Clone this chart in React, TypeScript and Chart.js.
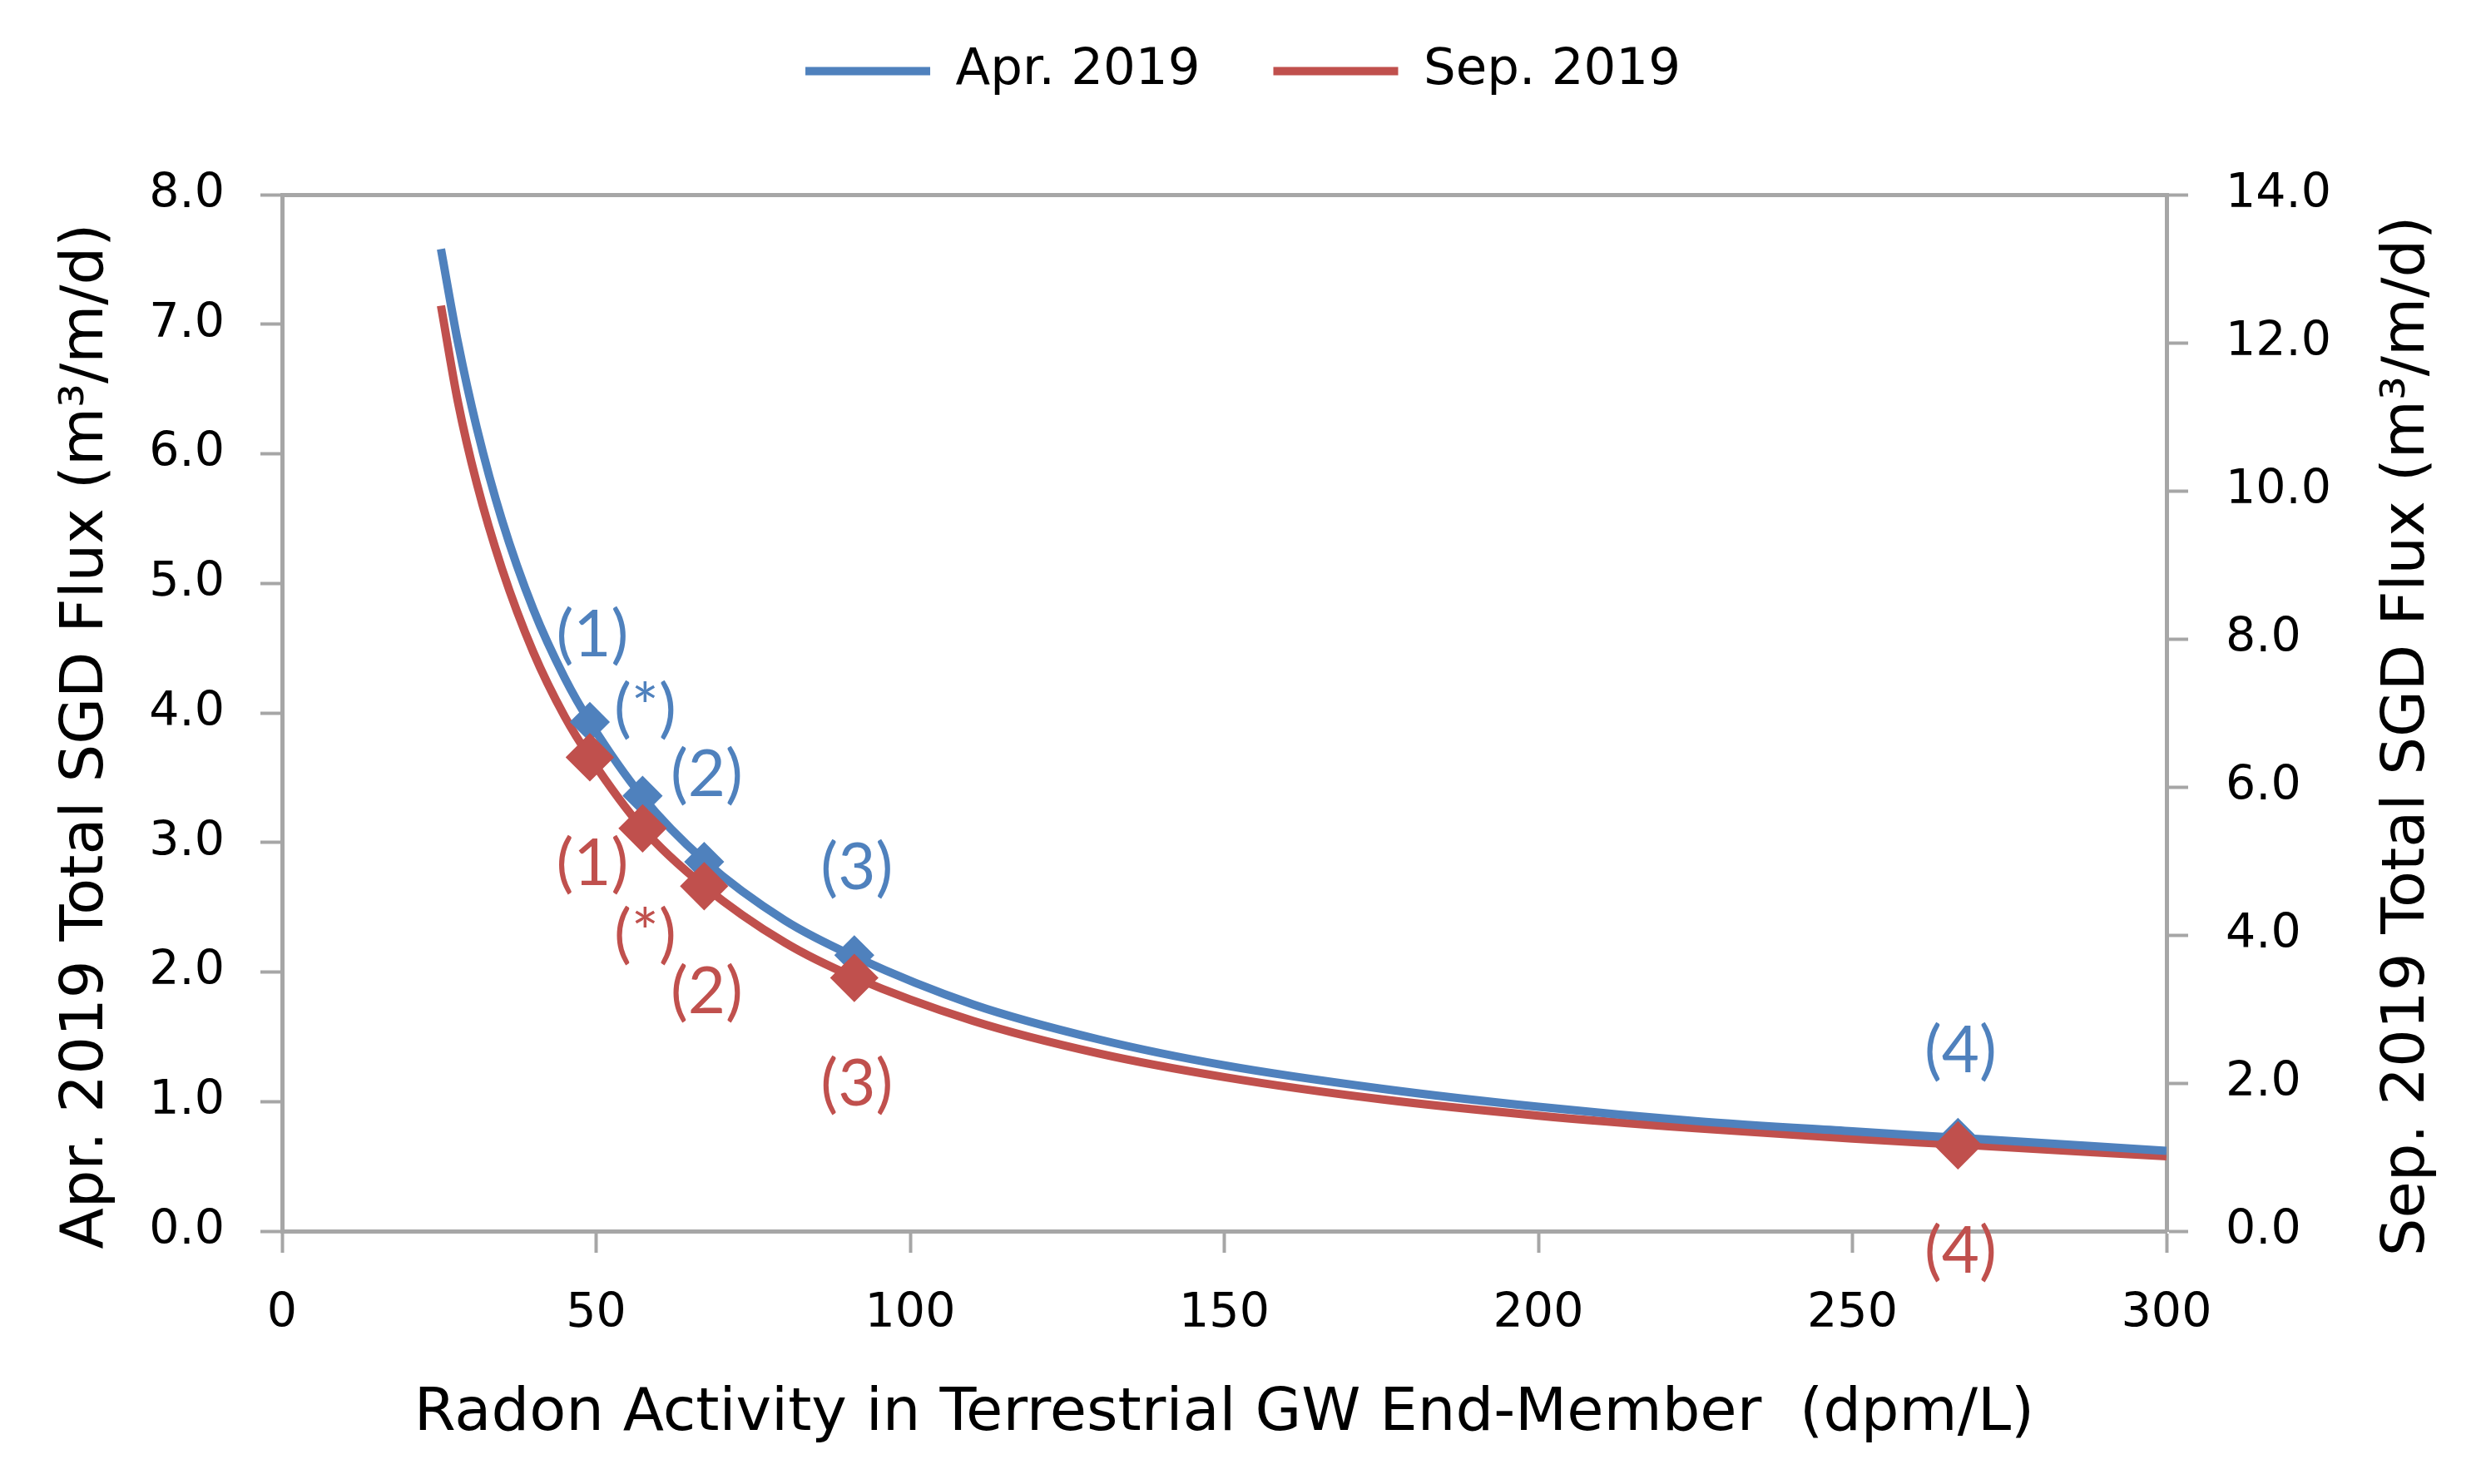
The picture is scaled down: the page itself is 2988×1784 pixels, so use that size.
import React, { useEffect, useRef } from 'react';
import { Chart, registerables } from 'chart.js';

Chart.register(...registerables);

// ---- data ----
const seriesNames = ['Apr. 2019', 'Sep. 2019'];
const curveX = [25.3, 28, 31, 35, 40, 45, 49, 57.4, 67.2, 80, 91.1, 110, 130, 150, 175, 200, 225, 250, 266.8, 300];
const aprCurve = [7.58, 6.86, 6.2, 5.49, 4.8, 4.27, 3.93, 3.35, 2.86, 2.4, 2.12, 1.75, 1.48, 1.28, 1.1, 0.96, 0.85, 0.77, 0.72, 0.62];
const sepCurve = [12.5, 11.2, 10.1, 8.95, 7.82, 6.95, 6.4, 5.44, 4.66, 3.9, 3.43, 2.84, 2.4, 2.08, 1.78, 1.56, 1.39, 1.25, 1.17, 1.01];
const markerX = [49, 57.4, 67.2, 91.1, 266.8];
const aprMarkers = [3.93, 3.36, 2.85, 2.13, 0.72];
const sepMarkers = [6.4, 5.44, 4.66, 3.42, 1.16];
const markerLabels = ['(1)', '(*)', '(2)', '(3)', '(4)'];
const xRange = [0, 300, 50];
const yLeftRange = [0, 8, 1];
const yRightRange = [0, 14, 2];
const xTitle = 'Radon Activity in Terrestrial GW End-Member  (dpm/L)';
const yLeftTitle = 'Apr. 2019 Total SGD Flux (m\u00B3/m/d)';
const yRightTitle = 'Sep. 2019 Total SGD Flux (m\u00B3/m/d)';

// ---- styles ----
const BLUE = '#4F81BD';
const RED = '#C0504D';
const GRAY = '#A6A6A6';
const FONT = "'DejaVu Sans', Verdana, sans-serif";
const LABEL_FONT = "Lato, 'Open Sans', sans-serif";

const toXY = (xs: number[], ys: number[]) => xs.map((x, i) => ({ x, y: ys[i] }));

const pointLabelsPlugin = {
  id: 'pointLabels',
  afterDatasetsDraw(chart: any) {
    const ctx = chart.ctx;
    const cfgs = [
      { ds: 2, color: BLUE, dy: -104 },
      { ds: 3, color: RED, dy: 128 },
    ];
    ctx.save();
    ctx.font = `78px ${LABEL_FONT}`;
    ctx.textAlign = 'center';
    ctx.textBaseline = 'middle';
    cfgs.forEach((c) => {
      const meta = chart.getDatasetMeta(c.ds);
      ctx.fillStyle = c.color;
      meta.data.forEach((pt: any, i: number) => {
        ctx.fillText(markerLabels[i], pt.x + 3, pt.y + c.dy);
      });
    });
    ctx.restore();
  },
};

// vertical axis titles, both reading bottom-to-top as in the reference
const axisTitlesPlugin = {
  id: 'axisTitles',
  afterDraw(chart: any) {
    const ctx = chart.ctx;
    const area = chart.chartArea;
    const midY = (area.top + area.bottom) / 2 + 28;
    const items = [
      { text: yLeftTitle, x: 104 },
      { text: yRightTitle, x: chart.width - 94 },
    ];
    ctx.save();
    ctx.font = `72px ${FONT}`;
    ctx.fillStyle = '#000';
    ctx.textAlign = 'center';
    ctx.textBaseline = 'middle';
    items.forEach((it) => {
      ctx.save();
      ctx.translate(it.x, midY);
      ctx.rotate(-Math.PI / 2);
      ctx.fillText(it.text, 0, 0);
      ctx.restore();
    });
    ctx.restore();
  },
};

const tickGrid = {
  display: true,
  drawOnChartArea: false,
  drawTicks: true,
  tickLength: 26,
  tickWidth: 4,
  tickColor: GRAY,
  color: GRAY,
};
const axisBorder = { display: true, color: GRAY, width: 5 };

export default function App() {
  const ref = useRef<HTMLCanvasElement | null>(null);

  useEffect(() => {
    if (!ref.current) return;
    const chart = new Chart(ref.current, {
      type: 'line',
      data: {
        datasets: [
          {
            label: seriesNames[0],
            data: toXY(curveX, aprCurve),
            borderColor: BLUE,
            backgroundColor: BLUE,
            borderWidth: 10,
            pointRadius: 0,
            cubicInterpolationMode: 'monotone',
            xAxisID: 'x',
            yAxisID: 'y',
            order: 2,
          },
          {
            label: seriesNames[1],
            data: toXY(curveX, sepCurve),
            borderColor: RED,
            backgroundColor: RED,
            borderWidth: 10,
            pointRadius: 0,
            cubicInterpolationMode: 'monotone',
            xAxisID: 'x',
            yAxisID: 'y2',
            order: 3,
          },
          {
            label: seriesNames[0] + ' markers',
            data: toXY(markerX, aprMarkers),
            showLine: false,
            pointStyle: 'rectRot',
            pointRadius: 22,
            pointBorderWidth: 3,
            pointBackgroundColor: BLUE,
            pointBorderColor: BLUE,
            borderColor: BLUE,
            backgroundColor: BLUE,
            xAxisID: 'x',
            yAxisID: 'y',
            order: 1,
          },
          {
            label: seriesNames[1] + ' markers',
            data: toXY(markerX, sepMarkers),
            showLine: false,
            pointStyle: 'rectRot',
            pointRadius: 27,
            pointBorderWidth: 3,
            pointBackgroundColor: RED,
            pointBorderColor: RED,
            borderColor: RED,
            backgroundColor: RED,
            xAxisID: 'x',
            yAxisID: 'y2',
            order: 0,
          },
        ] as any,
      },
      options: {
        animation: false,
        responsive: true,
        maintainAspectRatio: false,
        devicePixelRatio: 1,
        layout: { padding: { top: -33, left: 0, right: 0, bottom: 0 } },
        plugins: {
          legend: {
            display: true,
            position: 'top',
            labels: {
              filter: (item: any) => item.datasetIndex < 2,
              usePointStyle: true,
              pointStyle: 'line',
              pointStyleWidth: 150,
              font: { family: FONT, size: 61 },
              color: '#000',
              padding: 88,
            },
          },
          tooltip: { enabled: false },
        },
        scales: {
          x: {
            type: 'linear',
            position: 'bottom',
            min: xRange[0],
            max: xRange[1],
            ticks: {
              stepSize: xRange[2],
              font: { family: FONT, size: 57 },
              color: '#000',
              padding: 40,
              maxRotation: 0,
            },
            grid: tickGrid,
            border: axisBorder,
            title: {
              display: true,
              text: xTitle,
              font: { family: FONT, size: 72 },
              color: '#000',
              padding: { top: 0, bottom: 41 },
            },
            afterFit: (s: any) => {
              s.height = 304;
            },
          },
          x2: {
            type: 'linear',
            position: 'top',
            min: xRange[0],
            max: xRange[1],
            ticks: { display: false },
            grid: { display: false },
            border: axisBorder,
            afterFit: (s: any) => {
              s.height = 108;
            },
          },
          y: {
            type: 'linear',
            position: 'left',
            min: yLeftRange[0],
            max: yLeftRange[1],
            ticks: {
              stepSize: yLeftRange[2],
              callback: (v: any) => Number(v).toFixed(1),
              font: { family: FONT, size: 57 },
              color: '#000',
              padding: 43,
            },
            grid: tickGrid,
            border: axisBorder,
            title: { display: false },
            afterFit: (s: any) => {
              s.width = 339;
            },
          },
          y2: {
            type: 'linear',
            position: 'right',
            min: yRightRange[0],
            max: yRightRange[1],
            ticks: {
              stepSize: yRightRange[2],
              callback: (v: any) => Number(v).toFixed(1),
              font: { family: FONT, size: 57 },
              color: '#000',
              padding: 45,
            },
            grid: tickGrid,
            border: axisBorder,
            title: { display: false },
            afterFit: (s: any) => {
              s.width = 384;
            },
          },
        },
      } as any,
      plugins: [pointLabelsPlugin, axisTitlesPlugin],
    });
    return () => chart.destroy();
  }, []);

  return (
    <div style={{ position: 'fixed', left: 0, top: 0, width: 2988, height: 1784, background: '#fff' }}>
      <canvas ref={ref} />
    </div>
  );
}
